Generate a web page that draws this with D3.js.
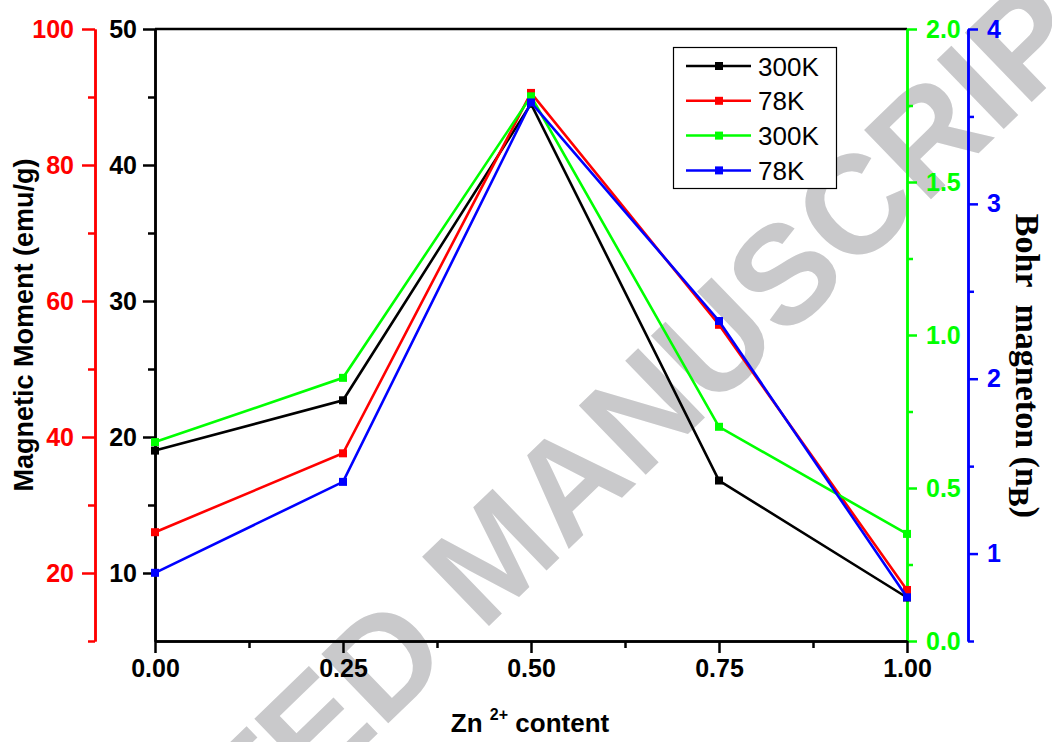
<!DOCTYPE html>
<html>
<head>
<meta charset="utf-8">
<script src="https://cdn.jsdelivr.net/npm/d3@7"></script>
<style>
  html, body { margin: 0; padding: 0; background: #fff; }
  #chart { width: 1052px; height: 742px; }
</style>
</head>
<body>
<div id="chart"></div>
<script>
/* ─── Data ─── */
const znContent = [0, 0.25, 0.5, 0.75, 1.0];
const moment300K = [19.0, 22.7, 44.5, 16.8, 8.2];     // emu/g, black axis
const moment78K = [26.0, 37.6, 90.6, 56.5, 17.5];     // emu/g, red axis
const bohr300K = [0.65, 0.86, 1.78, 0.70, 0.35];      // nB, green axis
const bohr78K = [0.89, 1.41, 3.58, 2.33, 0.75];       // nB, blue axis

const xTicks = [0, 0.25, 0.5, 0.75, 1.0];
const xMinorTicks = [0.125, 0.375, 0.625, 0.875];
const blackTicks = [10, 20, 30, 40, 50];
const blackMinor = [15, 25, 35, 45];
const redTicks = [20, 40, 60, 80, 100];
const redMinor = [10, 30, 50, 70, 90];
const greenTicks = [0, 0.5, 1.0, 1.5, 2.0];
const greenMinor = [0.25, 0.75, 1.25, 1.75];
const blueTicks = [1, 2, 3, 4];
const blueMinor = [0.5, 1.5, 2.5, 3.5];

const legendLabels = ['300K', '78K', '300K', '78K'];

const cfg = {
  w: 1052,
  h: 742,
  left: 155,
  right: 907,
  top: 29,
  bottom: 641,
  redAxisX: 95,
  blueAxisX: 968,
  font: "'Liberation Sans', Arial, Helvetica, sans-serif",
  serif: "'Liberation Serif', 'Times New Roman', serif",
  black: '#000000',
  red: '#ff0000',
  green: '#00ff00',
  blue: '#0000ff',
  watermark: '#c9c9cb',
};

const svg = d3.select('#chart')
  .append('svg')
  .attr('width', cfg.w)
  .attr('height', cfg.h)
  .attr('viewBox', `0 0 ${cfg.w} ${cfg.h}`);

// Watermark behind everything
svg.append('text')
  .attr('transform', 'translate(492,553) rotate(-44)')
  .attr('text-anchor', 'middle')
  .attr('dy', '0.36em')
  .attr('font-family', cfg.font)
  .attr('font-weight', 'bold')
  .attr('font-size', '140px')
  .attr('fill', cfg.watermark)
  .text('ACCEPTED MANUSCRIPT');

// Scales
const x = d3.scaleLinear().domain([0, 1]).range([cfg.left, cfg.right]);
const yBlack = d3.scaleLinear().domain([5, 50]).range([cfg.bottom, cfg.top]);
const yRed = d3.scaleLinear().domain([10, 100]).range([cfg.bottom, cfg.top]);
const yGreen = d3.scaleLinear().domain([0, 2]).range([cfg.bottom, cfg.top]);
const yBlue = d3.scaleLinear().domain([0.5, 4]).range([cfg.bottom, cfg.top]);

function styleAxis(sel, color, fontSize) {
  sel.select('.domain').attr('stroke', color).attr('stroke-width', 2.5);
  sel.selectAll('.tick line').attr('stroke', color).attr('stroke-width', 2.5);
  sel.selectAll('.tick text')
    .attr('fill', color)
    .attr('font-family', cfg.font)
    .attr('font-weight', 'bold')
    .attr('font-size', fontSize);
}

function addAxis(axisFn, scale, major, minor, fmt, pos, color, pad, majorLen, minorLen, fontSize) {
  const minorG = svg.append('g').attr('transform', pos)
    .call(axisFn(scale).tickValues(minor).tickSize(minorLen).tickSizeOuter(0).tickFormat(''));
  styleAxis(minorG, color, fontSize);
  const majorG = svg.append('g').attr('transform', pos)
    .call(axisFn(scale).tickValues(major).tickSize(majorLen).tickSizeOuter(0)
      .tickPadding(pad).tickFormat(fmt));
  styleAxis(majorG, color, fontSize);
  return majorG;
}

// Top frame line
svg.append('line')
  .attr('x1', x(0)).attr('x2', x(1))
  .attr('y1', yBlack(50)).attr('y2', yBlack(50))
  .attr('stroke', cfg.black).attr('stroke-width', 2.5);

// Left black axis
addAxis(d3.axisLeft, yBlack, blackTicks, blackMinor, d3.format('d'),
  `translate(${cfg.left},0)`, cfg.black, 6, 12, 7, '25px');
// Left red axis
addAxis(d3.axisLeft, yRed, redTicks, redMinor, d3.format('d'),
  `translate(${cfg.redAxisX},0)`, cfg.red, 8, 13, 7, '25px');
// Right green axis
addAxis(d3.axisRight, yGreen, greenTicks, greenMinor, d3.format('.1f'),
  `translate(${cfg.right},0)`, cfg.green, 9, 10, 6, '25px');
// Right blue axis
addAxis(d3.axisRight, yBlue, blueTicks, blueMinor, d3.format('d'),
  `translate(${cfg.blueAxisX},0)`, cfg.blue, 9, 10, 6, '25px');
// Bottom axis
addAxis(d3.axisBottom, x, xTicks, xMinorTicks, d3.format('.2f'),
  `translate(0,${cfg.bottom})`, cfg.black, 6, 12, 7, '25px');

// Series
const series = [
  { values: moment300K, y: yBlack, color: cfg.black },
  { values: moment78K, y: yRed, color: cfg.red },
  { values: bohr300K, y: yGreen, color: cfg.green },
  { values: bohr78K, y: yBlue, color: cfg.blue },
];

const line = d3.line();
series.forEach(s => {
  const pts = znContent.map((z, i) => [x(z), s.y(s.values[i])]);
  svg.append('path')
    .attr('d', line(pts))
    .attr('fill', 'none')
    .attr('stroke', s.color)
    .attr('stroke-width', 2.6)
    .attr('stroke-linejoin', 'miter');
  svg.selectAll(null)
    .data(pts)
    .enter()
    .append('rect')
    .attr('x', d => d[0] - 4)
    .attr('y', d => d[1] - 4)
    .attr('width', 8)
    .attr('height', 8)
    .attr('fill', s.color);
});

// Legend
const legend = svg.append('g');
legend.append('rect')
  .attr('x', 673.5).attr('y', 47.5)
  .attr('width', 163).attr('height', 141)
  .attr('fill', '#fff')
  .attr('stroke', '#000')
  .attr('stroke-width', 1.2);

series.forEach((s, i) => {
  const ly = 66 + i * 34.8;
  legend.append('line')
    .attr('x1', 686).attr('x2', 751)
    .attr('y1', ly).attr('y2', ly)
    .attr('stroke', s.color).attr('stroke-width', 2.5);
  legend.append('rect')
    .attr('x', 715).attr('y', ly - 4)
    .attr('width', 8).attr('height', 8)
    .attr('fill', s.color);
  legend.append('text')
    .attr('x', 758).attr('y', ly + 9.5)
    .attr('font-family', cfg.font)
    .attr('font-size', '26px')
    .attr('fill', '#000')
    .text(legendLabels[i]);
});

// Axis titles
svg.append('text')
  .attr('transform', 'translate(33,325) rotate(-90)')
  .attr('text-anchor', 'middle')
  .attr('font-family', cfg.font)
  .attr('font-weight', 'bold')
  .attr('font-size', '27px')
  .attr('fill', '#000')
  .text('Magnetic Moment (emu/g)');

const xTitle = svg.append('text')
  .attr('x', 530).attr('y', 732)
  .attr('text-anchor', 'middle')
  .attr('font-family', cfg.font)
  .attr('font-weight', 'bold')
  .attr('font-size', '26px')
  .attr('fill', '#000');
xTitle.append('tspan').text('Zn ');
xTitle.append('tspan').attr('font-size', '16px').attr('dy', -12).text('2+');
xTitle.append('tspan').attr('dy', 12).text(' content');

const rTitle = svg.append('text')
  .attr('transform', 'translate(1016,366) rotate(90)')
  .attr('text-anchor', 'middle')
  .attr('font-family', cfg.serif)
  .attr('font-weight', 'bold')
  .attr('font-size', '34px')
  .attr('fill', '#000');
rTitle.append('tspan').text('Bohr\u00a0 magneton (n');
rTitle.append('tspan').attr('font-size', '30px').attr('dy', 7).text('B');
rTitle.append('tspan').attr('dy', -7).text(')');
</script>
</body>
</html>
